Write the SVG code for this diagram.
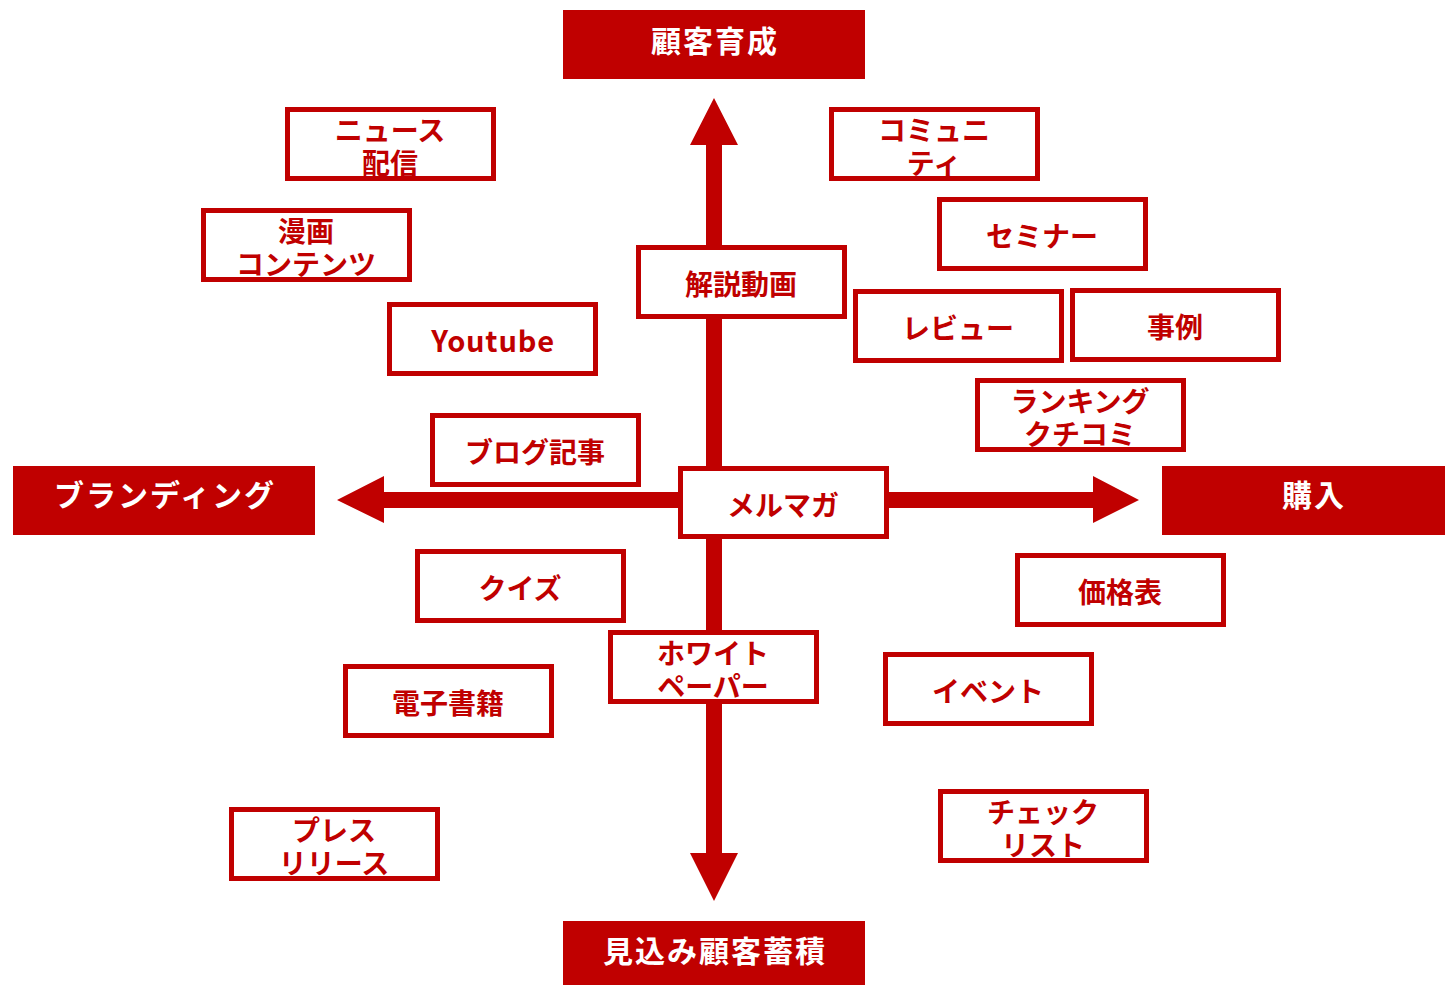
<svg xmlns="http://www.w3.org/2000/svg" width="1445" height="985" viewBox="0 0 1445 985">
<style>
.bg{fill:#ffffff}
.arrow{fill:#C00000}
.banner rect{fill:#C00000}
.banner text{fill:#ffffff;font-family:"Noto Sans CJK JP","Noto Sans",sans-serif;font-weight:bold;font-size:30px;letter-spacing:2px;text-anchor:middle}
.node rect{fill:#ffffff;stroke:#C00000;stroke-width:5}
.node text{fill:#C00000;font-family:"Noto Sans CJK JP","Noto Sans",sans-serif;font-weight:bold;font-size:28px;text-anchor:middle}
.node text.latin{font-size:29px;letter-spacing:0.8px}
</style>
<rect class="bg" x="0" y="0" width="1445" height="985"/>
<g id="connectors">
  <polygon class="arrow" points="714,98 738,145 722,145 722,853 738,853 714,901 690,853 706,853 706,145 690,145"/>
  <polygon class="arrow" points="337,500 384,476 384,492 1093,492 1093,476 1139,500 1093,523 1093,508 384,508 384,523"/>
</g>
<g id="banner-top" class="banner"><rect x="563" y="10" width="302" height="69"/><text x="715" y="52">顧客育成</text></g>
<g id="banner-bottom" class="banner"><rect x="563" y="921" width="302" height="64"/><text x="715" y="962">見込み顧客蓄積</text></g>
<g id="banner-left" class="banner"><rect x="13" y="466" width="302" height="69"/><text x="165" y="506">ブランディング</text></g>
<g id="banner-right" class="banner"><rect x="1162" y="466" width="283" height="69"/><text x="1314" y="506">購入</text></g>

<g id="n-news" class="node"><rect x="287.5" y="109.5" width="206" height="69"/><text x="390" y="141">ニュース</text><text x="390" y="174">配信</text></g>
<g id="n-community" class="node"><rect x="831.5" y="109.5" width="206" height="69"/><text x="934" y="141">コミュニ</text><text x="934" y="174">ティ</text></g>
<g id="n-manga" class="node"><rect x="203.5" y="210.5" width="206" height="69"/><text x="306" y="242">漫画</text><text x="306" y="275">コンテンツ</text></g>
<g id="n-seminar" class="node"><rect x="939.5" y="199.5" width="206" height="69"/><text x="1042" y="247">セミナー</text></g>
<g id="n-video" class="node"><rect x="638.5" y="247.5" width="206" height="69"/><text x="741" y="295">解説動画</text></g>
<g id="n-review" class="node"><rect x="855.5" y="291.5" width="206" height="69"/><text x="958" y="339">レビュー</text></g>
<g id="n-case" class="node"><rect x="1072.5" y="290.5" width="206" height="69"/><text x="1175" y="338">事例</text></g>
<g id="n-youtube" class="node"><rect x="389.5" y="304.5" width="206" height="69"/><text class="latin" x="493" y="352">Youtube</text></g>
<g id="n-ranking" class="node"><rect x="977.5" y="380.5" width="206" height="69"/><text x="1080" y="412">ランキング</text><text x="1080" y="445">クチコミ</text></g>
<g id="n-blog" class="node"><rect x="432.5" y="415.5" width="206" height="69"/><text x="535" y="463">ブログ記事</text></g>
<g id="n-mailmag" class="node"><rect x="680.5" y="468.5" width="206" height="68"/><text x="783" y="516">メルマガ</text></g>
<g id="n-quiz" class="node"><rect x="417.5" y="551.5" width="206" height="69"/><text x="520" y="599">クイズ</text></g>
<g id="n-price" class="node"><rect x="1017.5" y="555.5" width="206" height="69"/><text x="1120" y="603">価格表</text></g>
<g id="n-whitepaper" class="node"><rect x="610.5" y="632.5" width="206" height="69"/><text x="713" y="664">ホワイト</text><text x="713" y="697">ペーパー</text></g>
<g id="n-ebook" class="node"><rect x="345.5" y="666.5" width="206" height="69"/><text x="448" y="714">電子書籍</text></g>
<g id="n-event" class="node"><rect x="885.5" y="654.5" width="206" height="69"/><text x="988" y="702">イベント</text></g>
<g id="n-press" class="node"><rect x="231.5" y="809.5" width="206" height="69"/><text x="334" y="841">プレス</text><text x="334" y="874">リリース</text></g>
<g id="n-checklist" class="node"><rect x="940.5" y="791.5" width="206" height="69"/><text x="1043" y="823">チェック</text><text x="1043" y="856">リスト</text></g>
</svg>
